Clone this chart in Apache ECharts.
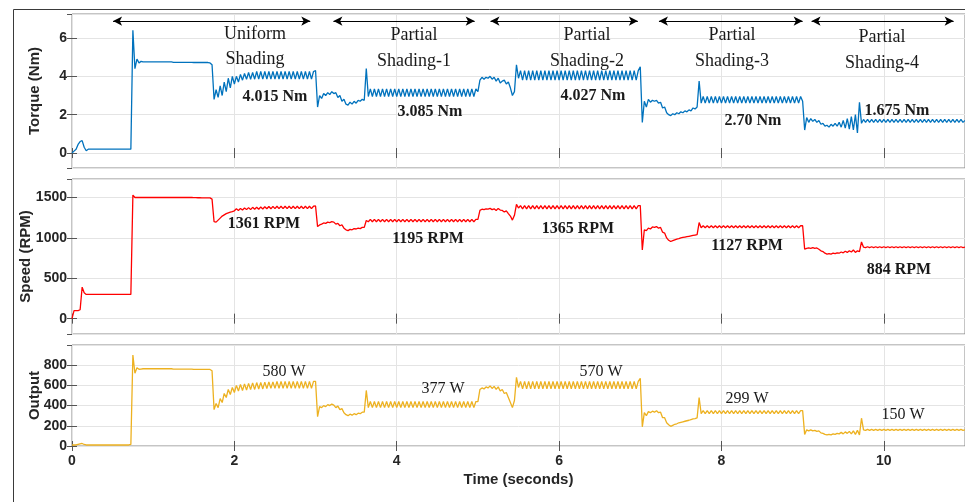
<!DOCTYPE html>
<html><head><meta charset="utf-8">
<script src="https://cdn.jsdelivr.net/npm/echarts@6/dist/echarts.min.js"></script>
<style>html,body{margin:0;padding:0;background:#fff}#c{width:965px;height:502px}</style>
</head><body><div id="c"></div>
<script>
// ---------------- DATA ----------------
const sampleStep = 0.025; // seconds between samples (t = index * sampleStep)

const torqueNm = [
0.0,0.1,0.2,0.45,0.6,0.65,0.3,0.12,0.2,0.2,
0.2,0.2,0.2,0.2,0.2,0.2,0.2,0.2,0.2,0.2,
0.2,0.2,0.2,0.2,0.2,0.2,0.2,0.2,0.2,0.2,
6.4,4.4,4.9,4.7,4.78,4.75,4.75,4.75,4.75,4.75,
4.75,4.75,4.75,4.75,4.75,4.75,4.75,4.75,4.75,4.75,
4.73,4.73,4.73,4.73,4.73,4.73,4.73,4.73,4.73,4.73,
4.72,4.72,4.72,4.72,4.72,4.72,4.72,4.72,4.7,4.6,
2.8,3.3,2.9,3.5,3.0,3.7,3.2,3.9,3.4,4.0,
3.6,4.0,3.7,4.1,3.8,4.15,3.85,4.2,3.85,4.2,
3.85,4.25,3.85,4.25,3.85,4.25,3.85,4.25,3.85,4.25,
3.85,4.25,3.85,4.25,3.85,4.25,3.85,4.25,3.85,4.25,
3.85,4.25,3.85,4.25,3.85,4.25,3.85,4.25,3.85,4.25,
4.3,2.4,3.0,2.85,3.1,3.0,3.15,3.05,3.2,3.1,
3.15,2.9,3.0,2.7,2.8,2.55,2.5,2.65,2.55,2.7,
2.6,2.75,2.7,2.8,2.75,4.4,2.95,3.35,2.95,3.35,
2.95,3.35,2.95,3.35,2.95,3.35,2.95,3.35,2.95,3.35,
2.95,3.35,2.95,3.35,2.95,3.35,2.95,3.35,2.95,3.35,
2.95,3.35,2.95,3.35,2.95,3.35,2.95,3.35,2.95,3.35,
2.95,3.35,2.95,3.35,2.95,3.35,2.95,3.35,2.95,3.35,
2.95,3.35,2.95,3.35,2.95,3.35,2.95,3.35,2.95,3.35,
3.2,3.8,3.95,3.85,3.95,3.9,4.0,3.85,3.95,3.75,
3.9,3.65,3.75,3.8,3.6,3.7,3.4,3.0,3.2,4.6,
3.9,4.3,3.8,4.3,3.8,4.3,3.8,4.3,3.8,4.3,
3.8,4.3,3.8,4.3,3.8,4.3,3.8,4.3,3.8,4.3,
3.8,4.3,3.8,4.3,3.8,4.3,3.8,4.3,3.8,4.3,
3.8,4.3,3.8,4.3,3.8,4.3,3.8,4.3,3.8,4.3,
3.8,4.3,3.8,4.3,3.8,4.3,3.8,4.3,3.8,4.3,
3.8,4.3,3.8,4.3,3.8,4.3,3.8,4.3,3.8,4.3,
4.5,1.6,2.7,2.4,2.8,2.65,2.75,2.7,2.75,2.6,
2.65,2.35,2.4,2.1,2.0,1.95,2.05,2.0,2.1,2.05,
2.15,2.1,2.2,2.15,2.25,2.2,2.35,2.3,2.4,3.75,
2.6,2.95,2.6,2.95,2.6,2.95,2.6,2.95,2.6,2.95,
2.6,2.95,2.6,2.95,2.6,2.95,2.6,2.95,2.6,2.95,
2.6,2.95,2.6,2.95,2.6,2.95,2.6,2.95,2.6,2.95,
2.6,2.95,2.6,2.95,2.6,2.95,2.6,2.95,2.6,2.95,
2.6,2.95,2.6,2.95,2.6,2.95,2.6,2.95,2.6,2.95,
2.7,1.2,1.85,1.6,1.8,1.65,1.75,1.6,1.7,1.5,
1.55,1.4,1.45,1.35,1.5,1.4,1.55,1.4,1.6,1.35,
1.7,1.3,1.8,1.25,1.9,1.2,2.0,1.05,2.65,1.55,
1.75,1.6,1.75,1.6,1.75,1.6,1.75,1.6,1.75,1.6,
1.75,1.6,1.75,1.6,1.75,1.6,1.75,1.6,1.75,1.6,
1.75,1.6,1.75,1.6,1.75,1.6,1.75,1.6,1.75,1.6,
1.75,1.6,1.75,1.6,1.75,1.6,1.75,1.6,1.75,1.6,
1.75,1.6,1.75,1.6,1.75,1.6,1.75,1.6,1.75,1.6,
1.7
];

const speedRpm = [
0,100,100,100,110,390,320,300,300,300,
300,300,300,300,300,300,300,300,300,300,
300,300,300,300,300,300,300,300,300,300,
1530,1500,1500,1500,1500,1500,1500,1500,1500,1500,
1500,1500,1500,1500,1500,1500,1500,1500,1500,1500,
1500,1500,1500,1500,1500,1500,1500,1500,1500,1500,
1498,1498,1497,1497,1496,1496,1495,1495,1495,1480,
1200,1195,1220,1245,1270,1285,1300,1310,1320,1325,
1335,1360,1340,1365,1345,1370,1350,1375,1350,1378,
1355,1380,1355,1382,1358,1385,1360,1388,1360,1390,
1362,1392,1362,1392,1362,1392,1362,1392,1362,1392,
1362,1392,1362,1392,1362,1392,1362,1392,1362,1392,
1395,1140,1160,1170,1185,1180,1195,1190,1200,1195,
1170,1180,1150,1160,1120,1100,1090,1105,1100,1115,
1110,1120,1115,1130,1130,1215,1200,1230,1200,1230,
1200,1230,1200,1230,1200,1230,1200,1230,1200,1230,
1200,1230,1200,1230,1200,1230,1200,1230,1200,1230,
1200,1230,1200,1230,1200,1230,1200,1230,1200,1230,
1200,1230,1200,1230,1200,1230,1200,1230,1200,1230,
1200,1230,1200,1230,1200,1230,1200,1230,1200,1230,
1230,1340,1355,1350,1360,1355,1365,1350,1360,1340,
1365,1345,1340,1320,1335,1300,1270,1220,1280,1415,
1370,1400,1360,1400,1360,1400,1360,1400,1360,1400,
1360,1400,1360,1400,1360,1400,1360,1400,1360,1400,
1360,1400,1360,1400,1360,1400,1360,1400,1360,1400,
1360,1400,1360,1400,1360,1400,1360,1400,1360,1400,
1360,1400,1360,1400,1360,1400,1360,1400,1360,1400,
1360,1400,1360,1400,1360,1400,1360,1400,1360,1400,
1400,850,1100,1090,1120,1110,1135,1130,1140,1120,
1130,1070,1060,1000,970,955,965,975,985,990,
1000,1005,1010,1015,1020,1025,1030,1035,1040,1190,
1125,1150,1125,1150,1125,1150,1125,1150,1125,1150,
1125,1150,1125,1150,1125,1150,1125,1150,1125,1150,
1125,1150,1125,1150,1125,1150,1125,1150,1125,1150,
1125,1150,1125,1150,1125,1150,1125,1150,1125,1150,
1125,1150,1125,1150,1125,1150,1125,1150,1125,1150,
1150,860,870,875,870,880,870,875,860,840,
830,810,800,805,800,810,805,815,810,825,
815,835,820,840,825,850,820,840,830,950,
885,880,890,880,890,880,890,880,890,880,
890,880,890,880,890,880,890,880,890,880,
890,880,890,880,890,880,890,880,890,880,
890,880,890,880,890,880,890,880,890,880,
890,880,890,880,890,880,890,880,890,880,
885
];

const outputW = [
10,10,10,15,20,25,15,10,10,10,
10,10,10,10,10,10,10,10,10,10,
10,10,10,10,10,10,10,10,10,15,
900,720,775,760,762,765,765,765,765,765,
765,765,765,765,765,765,765,765,765,765,
762,762,762,762,762,762,762,762,762,762,
758,758,758,758,758,758,758,758,758,745,
360,420,380,470,430,520,480,560,510,580,
530,600,545,610,550,615,555,620,560,625,
560,628,565,630,565,632,568,635,570,635,
570,640,570,640,570,640,570,640,570,640,
570,640,570,640,570,640,570,640,570,640,
640,290,390,380,400,390,410,400,415,405,
380,395,360,370,330,310,300,315,305,320,
310,325,320,335,335,550,380,440,380,440,
380,440,380,440,380,440,380,440,380,440,
380,440,380,440,380,440,380,440,380,440,
380,440,380,440,380,440,380,440,380,440,
380,440,380,440,380,440,380,440,380,440,
380,440,380,440,380,440,380,440,380,440,
440,560,575,565,585,575,595,570,590,560,
585,545,560,520,530,480,430,380,450,680,
580,640,565,640,565,640,565,640,565,640,
565,640,565,640,565,640,565,640,565,640,
565,640,565,640,565,640,565,640,565,640,
565,640,565,640,565,640,565,640,565,640,
565,640,565,640,565,640,565,640,565,640,
565,640,565,640,565,640,565,640,565,640,
670,190,330,300,340,330,345,335,350,330,
335,280,280,230,210,195,205,215,220,230,
235,240,245,250,255,262,268,272,278,480,
320,350,320,350,320,350,320,350,320,350,
320,350,320,350,320,350,320,350,320,350,
320,350,320,350,320,350,320,350,320,350,
320,350,320,350,320,350,320,350,320,350,
320,350,320,350,320,350,320,350,320,350,
350,115,160,150,160,150,155,145,150,130,
125,115,110,115,110,120,115,125,120,135,
120,140,125,145,120,150,115,155,110,275,
160,155,165,155,165,155,165,155,165,155,
165,155,165,155,165,155,165,155,165,155,
165,155,165,155,165,155,165,155,165,155,
165,155,165,155,165,155,165,155,165,155,
165,155,165,155,165,155,165,155,165,155,
160
];

const regionStart = [0.506, 3.22, 5.155, 7.23, 9.11];
const regionEnd   = [2.935, 4.96, 6.97, 9.0, 10.86];
const regionTitles = [['Uniform','Shading'],['Partial','Shading-1'],['Partial','Shading-2'],['Partial','Shading-3'],['Partial','Shading-4']];
const torqueLabels = ['4.015 Nm','3.085 Nm','4.027 Nm','2.70 Nm','1.675 Nm'];
const speedLabels  = ['1361 RPM','1195 RPM','1365 RPM','1127 RPM','884 RPM'];
const outputLabels = ['580 W','377 W','570 W','299 W','150 W'];
const xTitle = 'Time (seconds)';
const yTitles = ['Torque (Nm)','Speed (RPM)','Output'];

// ---------------- LAYOUT ----------------
const grids = [
  {left:72, right:0, top:14, height:154},
  {left:72, right:0, top:179, height:155},
  {left:72, right:0, top:345, height:101}
];
const yRanges = [[-0.78, 7.25, 4], [-190, 1729, 4], [0, 1000, 5]];
const yNameGaps = [30, 39, 30];
const arrowLevel = 6.88;
const titlePos = [[255,34,59],[414,35,61],[587,35,61],[732,35,61],[882,37,63]];
const torqueLabelPos = [[275,97],[430,112],[593,96],[753,121],[897,111]];
const speedLabelPos  = [[264,224],[428,239],[578,229],[747,246],[899,270]];
const outputLabelPos = [[284,372],[443,389],[601,372],[747,399],[903,415]];

const colors = ['#0072BD', '#FF0000', '#EDB120'];
const sansBold = {fontFamily:'Liberation Sans', fontWeight:'bold', color:'#262626'};

const xAxes = [], yAxes = [];
for (let g = 0; g < 3; g++) {
  xAxes.push({
    type:'value', gridIndex:g, min:0, max:11, splitNumber:5, position:'bottom',
    axisLine:{show:false},
    axisTick:{show:true, inside:true, length:5, lineStyle:{color:'#555'}},
    splitLine:{show:true, lineStyle:{color:'#e4e4e4', width:1}},
    axisLabel:Object.assign({show:g===2, showMaxLabel:false, margin:8, fontSize:14,
      formatter:v => String(v)}, sansBold),
    name: g===2 ? xTitle : '', nameLocation:'middle', nameGap:26, nameMoveOverlap:false,
    nameTextStyle:Object.assign({fontSize:15}, sansBold)
  });
  const r = yRanges[g];
  yAxes.push({
    type:'value', gridIndex:g, min:r[0], max:r[1], splitNumber:r[2], position:'left',
    axisLine:{show:false},
    axisTick:{show:true, inside:true, length:5, lineStyle:{color:'#555'}},
    splitLine:{show:true, lineStyle:{color:'#e4e4e4', width:1}},
    axisLabel:Object.assign({showMinLabel:g===2, showMaxLabel:false, margin:5, fontSize:14,
      formatter:v => String(v)}, sansBold),
    name: yTitles[g], nameLocation:'middle', nameGap:yNameGaps[g], nameMoveOverlap:false,
    nameTextStyle:Object.assign({fontSize:15}, sansBold)
  });
}
for (let g = 0; g < 3; g++) {
  xAxes.push({
    type:'value', gridIndex:g, min:0, max:11, splitNumber:5, position:'top',
    axisLine:{show:false}, axisLabel:{show:false}, splitLine:{show:false},
    axisTick:{show:true, inside:true, length:5, lineStyle:{color:'#555'}}
  });
  const r = yRanges[g];
  yAxes.push({
    type:'value', gridIndex:g, min:r[0], max:r[1], splitNumber:r[2], position:'right',
    axisLine:{show:false}, axisLabel:{show:false}, splitLine:{show:false},
    axisTick:{show:true, inside:true, length:5, lineStyle:{color:'#555'}}
  });
}

function toPairs(arr) { return arr.map((v, i) => [+(i * sampleStep).toFixed(3), v]); }

const seriesData = [torqueNm, speedRpm, outputW];
const series = seriesData.map((d, g) => ({
  type:'line', xAxisIndex:g, yAxisIndex:g, data:toPairs(d),
  symbol:'none', showSymbol:false, silent:true,
  lineStyle:{color:colors[g], width:1.3}, itemStyle:{color:colors[g]}
}));
series[0].markLine = {
  silent:true, symbol:['arrow','arrow'], symbolSize:[7,9],
  label:{show:false}, lineStyle:{color:'#000', width:1, type:'solid'},
  data: regionStart.map((s, k) => [{coord:[s, arrowLevel]}, {coord:[regionEnd[k], arrowLevel]}])
};

const graphic = [{
  type:'rect', shape:{x:13.5, y:9.5, width:1000, height:1000},
  style:{fill:'none', stroke:'#3a3a3a', lineWidth:1}, silent:true
}];
function addText(txt, x, y, size, weight) {
  graphic.push({type:'text', x:x, y:y, silent:true, z:100,
    style:{text:txt, fontFamily:'Liberation Serif', fontSize:size, fontWeight:weight,
           fill:'#1a1a1a', align:'center', verticalAlign:'middle'}});
}
regionTitles.forEach((t, k) => { addText(t[0], titlePos[k][0], titlePos[k][1], 18, 'normal');
                                 addText(t[1], titlePos[k][0], titlePos[k][2], 18, 'normal'); });
torqueLabels.forEach((t, k) => addText(t, torqueLabelPos[k][0], torqueLabelPos[k][1], 16, 'bold'));
speedLabels.forEach((t, k) => addText(t, speedLabelPos[k][0], speedLabelPos[k][1], 16, 'bold'));
outputLabels.forEach((t, k) => addText(t, outputLabelPos[k][0], outputLabelPos[k][1], 16, 'normal'));

const chart = echarts.init(document.getElementById('c'), null, {renderer:'canvas'});
chart.setOption({
  animation:false,
  backgroundColor:'#fff',
  grid: grids.map(g => Object.assign({show:true, borderColor:'#8a8a8a', borderWidth:1, backgroundColor:'#fff'}, g)),
  xAxis: xAxes,
  yAxis: yAxes,
  series: series,
  graphic: graphic
});
</script>
</body></html>
